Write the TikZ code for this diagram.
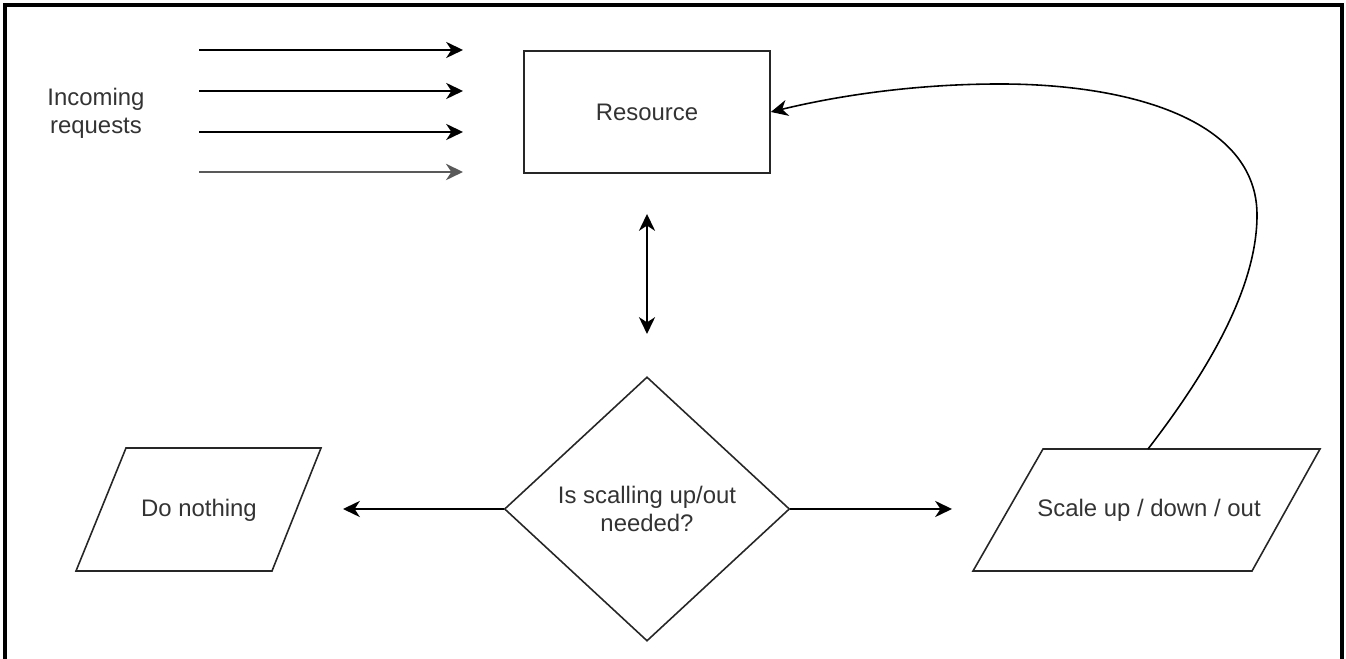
\documentclass[tikz,border=0pt]{standalone}
\usepackage{fontspec}
\setmainfont{Liberation Sans}
\usetikzlibrary{arrows.meta,shapes.geometric}
\begin{document}
\begin{tikzpicture}[x=0.01cm,y=-0.01cm,
  font=\fontsize{6.8}{7.9}\selectfont,
  txt/.style={text=black!80, align=center, inner sep=0pt},
  shapeline/.style={draw=black!85, line width=0.45pt},
  tip/.tip={Stealth[length=4.8pt,width=4.6pt,inset=1.5pt]},
  conn/.style={draw=black, line width=0.5pt, -tip},
  dconn/.style={draw=black, line width=0.5pt, tip-tip},
  frame/.style={draw=black, line width=0.9pt}
]
\useasboundingbox (0,0) rectangle (1346,659);
\draw[frame] (5,659) -- (5,5) -- (1342,5) -- (1342,659);

% incoming requests
\node[txt] (inc) at (96,113) {Incoming\\requests};
\coordinate (a1s) at (199,50);  \coordinate (a1e) at (463,50);
\coordinate (a2s) at (199,91);  \coordinate (a2e) at (463,91);
\coordinate (a3s) at (199,132); \coordinate (a3e) at (463,132);
\coordinate (a4s) at (199,172); \coordinate (a4e) at (463,172);
\draw[conn] (a1s) -- (a1e);
\draw[conn] (a2s) -- (a2e);
\draw[conn] (a3s) -- (a3e);
\draw[conn, draw=black!65, line width=0.8pt] (a4s) -- (a4e);

% resource
\node[shapeline, txt, minimum width=2.46cm, minimum height=1.22cm] (res) at (647,112) {Resource};

% double arrow
\coordinate (dtop) at (647,214);
\coordinate (dbot) at (647,334);
\draw[dconn] (dtop) -- (dbot);

% decision
\node[diamond, shapeline, txt, minimum width=2.85cm, minimum height=2.64cm] (decide) at (647,509) {Is scalling up/out\\needed?};

% do nothing parallelogram
\draw[shapeline] (126,448) -- (321,448) -- (272,571) -- (76,571) -- cycle;
\node[txt] (nothing) at (199,510) {Do nothing};

% scale parallelogram
\draw[shapeline] (1043,449) -- (1320,449) -- (1252,571) -- (973,571) -- cycle;
\node[txt] (scale) at (1149,510) {Scale up / down / out};
\coordinate (scaletop) at (1148,449);

% side arrows
\coordinate (dnE) at (343,509);
\coordinate (scW) at (952,509);
\draw[conn] (decide.west) -- (dnE);
\draw[conn] (decide.east) -- (scW);

% feedback curve
\draw[conn, line width=0.45pt] (scaletop) .. controls (1205,375) and (1257,290) .. (1257,215)
  .. controls (1257,120) and (1130,84) .. (1000,84)
  .. controls (900,84) and (820,100) .. (res.east);
\end{tikzpicture}
\end{document}
